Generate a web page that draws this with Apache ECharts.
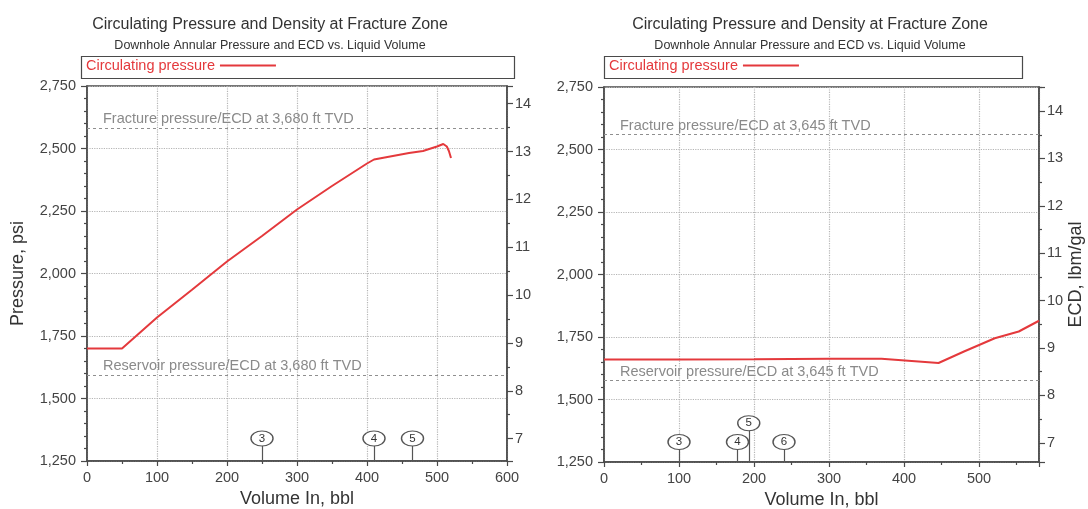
<!DOCTYPE html>
<html><head><meta charset="utf-8">
<script src="https://cdn.jsdelivr.net/npm/echarts@6/dist/echarts.min.js"></script>
<style>html,body{margin:0;padding:0;background:#fff}#c{width:1088px;height:509px}</style>
</head><body><div id="c"></div>
<script>
// ---- data ----
const mainTitle = 'Circulating Pressure and Density at Fracture Zone';
const subTitle = 'Downhole Annular Pressure and ECD vs. Liquid Volume';
const seriesName = 'Circulating pressure';
const tvdFeet = [3680, 3645];
const xMaxes = [600, 580];
const volumesLeft = [0, 50, 100, 150, 200, 250, 300, 350, 400, 410, 460, 480, 500, 509, 514, 517, 520];
const pressureLeft = [1700, 1700, 1824, 1935, 2048, 2150, 2256, 2350, 2440, 2456, 2482, 2490, 2508, 2518, 2508, 2490, 2462];
const volumesRight = [0, 100, 200, 300, 370, 446, 480, 521, 553, 580];
const pressureRight = [1660, 1660, 1661, 1663, 1663, 1646, 1692, 1745, 1772, 1815];
const fracturePsi = [2583, 2562];
const reservoirPsi = [1595, 1578];
const fractureLabels = ['Fracture pressure/ECD at 3,680 ft TVD', 'Fracture pressure/ECD at 3,645 ft TVD'];
const reservoirLabels = ['Reservoir pressure/ECD at 3,680 ft TVD', 'Reservoir pressure/ECD at 3,645 ft TVD'];
const markerVolumesLeft = [250, 410, 465];
const markerLabelsLeft = ['3', '4', '5'];
const markerLevelsLeft = [1340, 1340, 1340];
const markerVolumesRight = [100, 178, 193, 240];
const markerLabelsRight = ['3', '4', '5', '6'];
const markerLevelsRight = [1330, 1330, 1405, 1330];
const pressureMin = 1250, pressureMax = 2750, pressureStep = 250;

// ---- styles ----
const RED = '#e4393c';
const AX = '#4a4a4a';
const FONT = 'Liberation Sans, Arial, sans-serif';

const grids = [
  {left: 87, top: 86, width: 420, height: 375},
  {left: 604, top: 87, width: 435, height: 375}
];

function xAxis(i) {
  return {
    type: 'value', gridIndex: i, min: 0, max: xMaxes[i], interval: 100,
    name: 'Volume In, bbl', nameLocation: 'middle', nameGap: 25,
    nameTextStyle: {fontSize: 18, color: '#333', fontFamily: FONT},
    axisLine: {show: true, onZero: false, lineStyle: {color: AX, width: 1.5}},
    axisTick: {show: true, length: 5, lineStyle: {color: AX, width: 1.2}},
    minorTick: {show: true, splitNumber: 2, length: 3, lineStyle: {color: AX, width: 1.2}},
    splitLine: {show: true, lineStyle: {type: 'dotted', color: '#b5b5b5', width: 1.2}},
    axisLabel: {fontSize: 14.5, color: '#444', margin: 9, fontFamily: FONT, showMaxLabel: i === 0}
  };
}
function pAxis(i) {
  return {
    type: 'value', gridIndex: i, position: 'left', min: pressureMin, max: pressureMax, interval: pressureStep,
    name: i === 0 ? 'Pressure, psi' : '', nameLocation: 'middle', nameGap: 60, nameRotate: 90,
    nameTextStyle: {fontSize: 18, color: '#333', fontFamily: FONT},
    axisLine: {show: true, lineStyle: {color: AX, width: 1.5}},
    axisTick: {show: true, length: 6, lineStyle: {color: AX, width: 1.2}},
    minorTick: {show: true, splitNumber: 5, length: 3, lineStyle: {color: AX, width: 1.2}},
    splitLine: {show: true, lineStyle: {type: 'dotted', color: '#b5b5b5', width: 1.2}},
    axisLabel: {fontSize: 14.5, color: '#444', margin: 11, fontFamily: FONT,
      formatter: v => v.toLocaleString('en-US')}
  };
}
function ecdAxis(i) {
  const k = 0.052 * tvdFeet[i];
  return {
    type: 'value', gridIndex: i, position: 'right', min: pressureMin / k, max: pressureMax / k, splitNumber: 8,
    name: i === 1 ? 'ECD, lbm/gal' : '', nameLocation: 'middle', nameGap: 28, nameRotate: 90,
    nameTextStyle: {fontSize: 18, color: '#333', fontFamily: FONT},
    axisLine: {show: true, lineStyle: {color: AX, width: 1.5}},
    axisTick: {show: true, length: 6, lineStyle: {color: AX, width: 1.2}},
    minorTick: {show: true, splitNumber: 2, length: 3, lineStyle: {color: AX, width: 1.2}},
    splitLine: {show: false},
    axisLabel: {fontSize: 14.5, color: '#444', margin: 8, fontFamily: FONT, showMinLabel: false, showMaxLabel: false,
      formatter: v => (Math.abs(v - Math.round(v)) < 1e-6 ? String(Math.round(v)) : '')}
  };
}

function refLines(i) {
  const lbl = (t) => ({show: true, position: 'insideStartTop', formatter: t, color: '#8a8a8a',
    fontSize: 14.5, fontFamily: FONT, distance: [16, 1]});
  return {
    silent: true, symbol: ['none', 'none'], animation: false,
    lineStyle: {type: [3, 3], color: '#8f8f8f', width: 1.2},
    data: [
      {yAxis: fracturePsi[i], label: lbl(fractureLabels[i])},
      {yAxis: reservoirPsi[i], label: lbl(reservoirLabels[i])}
    ]
  };
}

function markerSeries(xi, yi, vols, labels, levels) {
  return {
    type: 'scatter', xAxisIndex: xi, yAxisIndex: yi, z: 5, silent: true,
    symbol: 'circle', symbolSize: [22, 15],
    itemStyle: {color: '#fff', borderColor: '#555', borderWidth: 1.2, opacity: 1},
    label: {show: true, position: 'inside', formatter: p => p.value[2], color: '#333', fontSize: 11.5, fontFamily: FONT},
    data: vols.map((v, i) => [v, levels[i], labels[i]]),
    markLine: {
      silent: true, symbol: ['none', 'none'], z: 1, animation: false,
      lineStyle: {type: 'solid', color: '#555', width: 1.2},
      label: {show: false},
      data: vols.map((v, i) => [{coord: [v, pressureMin]}, {coord: [v, levels[i]]}])
    }
  };
}

const legendBase = {data: [seriesName], top: 58, padding: 0, align: 'right', icon: 'rect', itemWidth: 56, itemHeight: 2,
  selectedMode: false, textStyle: {color: RED, fontSize: 14.5, fontFamily: FONT}};

const option = {
  animation: false,
  textStyle: {fontFamily: FONT},
  grid: grids.map(g => Object.assign({show: true, borderColor: AX, borderWidth: 1.5, backgroundColor: 'transparent',
    containLabel: false, outerBoundsMode: 'none'}, g)),
  xAxis: [xAxis(0), xAxis(1)],
  yAxis: [pAxis(0), ecdAxis(0), pAxis(1), ecdAxis(1)],
  legend: [
    Object.assign({left: 86}, legendBase),
    Object.assign({left: 609}, legendBase)
  ],
  graphic: [
    {type: 'rect', left: 79, top: 54, shape: {width: 433, height: 22}, style: {fill: 'none', stroke: AX, lineWidth: 1.2}},
    {type: 'rect', left: 602, top: 54, shape: {width: 418, height: 22}, style: {fill: 'none', stroke: AX, lineWidth: 1.2}},
    {type: 'text', x: 270, y: 17, style: {text: mainTitle, fill: '#333', font: '16px ' + FONT, textAlign: 'center'}},
    {type: 'text', x: 270, y: 39, style: {text: subTitle, fill: '#333', font: '12.5px ' + FONT, textAlign: 'center'}},
    {type: 'text', x: 810, y: 17, style: {text: mainTitle, fill: '#333', font: '16px ' + FONT, textAlign: 'center'}},
    {type: 'text', x: 810, y: 39, style: {text: subTitle, fill: '#333', font: '12.5px ' + FONT, textAlign: 'center'}}
  ],
  series: [
    {name: seriesName, type: 'line', xAxisIndex: 0, yAxisIndex: 0, z: 3, symbol: 'none', color: RED,
      lineStyle: {color: RED, width: 2}, data: volumesLeft.map((v, i) => [v, pressureLeft[i]]), markLine: refLines(0)},
    {name: seriesName, type: 'line', xAxisIndex: 1, yAxisIndex: 2, z: 3, symbol: 'none', color: RED,
      lineStyle: {color: RED, width: 2}, data: volumesRight.map((v, i) => [v, pressureRight[i]]), markLine: refLines(1)},
    markerSeries(0, 0, markerVolumesLeft, markerLabelsLeft, markerLevelsLeft),
    markerSeries(1, 2, markerVolumesRight, markerLabelsRight, markerLevelsRight)
  ]
};
const chart = echarts.init(document.getElementById('c'), null, {renderer: 'canvas'});
chart.setOption(option);
</script></body></html>
